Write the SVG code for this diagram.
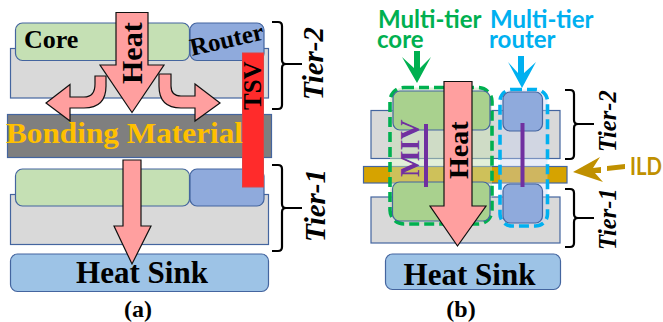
<svg xmlns="http://www.w3.org/2000/svg" width="663" height="322" viewBox="0 0 663 322">
<style>
.b{stroke:#44659f;stroke-width:1.2}
.g{fill:#d9d9d9}.c{fill:#c5e0b4}.r{fill:#8faadc}.s{fill:#9dc3e6}
.c2{fill:#a9d18e}
.h{fill:#ff9f9f;stroke:#111;stroke-width:1.2}
.t{font-family:"Liberation Serif",serif;font-weight:bold;fill:#000}
.i{font-family:"Liberation Serif",serif;font-weight:bold;font-style:italic;fill:#000}
.k{fill:none;stroke:#000;stroke-width:2.2}
.a{font-family:Lato,sans-serif;font-weight:bold;font-size:24px}
</style>
<rect width="663" height="322" fill="#fff"/>
<g id="tier2-a">
<rect class="g b" x="10.500" y="48.500" width="258" height="49.500"/>
<rect class="c b" x="15.500" y="23" width="174" height="37.500" rx="7"/>
<rect class="r b" x="190" y="23" width="74" height="37.500" rx="7"/>
<text class="t" font-size="26" x="24" y="48">Core</text>
<text class="t" font-size="25" transform="translate(192 56) rotate(-13)">Router</text>
</g>
<g id="bonding">
<rect x="7.500" y="114.500" width="264" height="43" fill="#7f7f7f" class="b"/>
</g>
<g id="tier1-a">
<rect class="g b" x="10.500" y="194.500" width="258" height="50"/>
<rect class="c b" x="15.500" y="169" width="174" height="37" rx="7"/>
<rect class="r b" x="190" y="169" width="74" height="37" rx="7"/>
</g>
<g id="heatsink-a">
<rect class="s b" x="10.500" y="254" width="258" height="37.500" rx="7"/>
<text class="t" font-size="31" x="142" y="283" text-anchor="middle">Heat Sink</text>
</g>
<g id="tsv">
<rect x="242.500" y="53" width="21" height="134" fill="#ff2b2b" stroke="#e04040"/>
<text class="t" font-size="25" transform="translate(261 110) rotate(-90)">TSV</text>
</g>
<g id="connectors">
<path class="h" d="M116 12.500H148V65H164L132 112.500L100 65H116Z"/>
<path class="h" d="M95 76H106V86Q106 108 84 108H70V121L46 103L70 84.500V97H84Q95 97 95 84Z"/>
<path class="h" d="M159 74H171V86Q171 96 181 96H195V84L220 103L195 121V108H181Q159 108 159 86Z"/>
<path class="h" d="M123 160H141V226H151L132 264L114 226H123Z"/>
<text class="t" font-size="30" transform="translate(142 84) rotate(-90)">Heat</text>
</g>
<text x="6" y="143" font-family="Liberation Serif,serif" font-weight="bold" font-size="30" fill="#ffc000" textLength="237" lengthAdjust="spacingAndGlyphs">Bonding Material</text>
<g id="tier-labels-a">
<path class="k" d="M272 22H278Q282 22 282 26V60Q282 64 286 64H302M286 64Q282 64 282 68V105Q282 109 278 109H272"/>
<path class="k" d="M272 165H278Q282 165 282 169V204Q282 208 286 208H302M286 208Q282 208 282 212V247Q282 251 278 251H272"/>
<text class="i" font-size="29" transform="translate(323 100) rotate(-90)">Tier-2</text>
<text class="i" font-size="29" transform="translate(325 242) rotate(-90)">Tier-1</text>
</g>
<text class="t" font-size="24" x="138" y="317" text-anchor="middle">(a)</text>

<g id="tier-base-b">
<rect class="g b" x="371" y="110.500" width="189" height="48"/>
<rect class="g b" x="371" y="197" width="189" height="46"/>
</g>
<g id="ild">
<rect x="363.500" y="166.500" width="203.500" height="16.500" fill="#d6a300" class="b"/>
</g>
<g id="multi-tier-core">
<rect x="390" y="87.500" width="102" height="136.500" rx="14" fill="#c5e0b4" fill-opacity=".5" stroke="#00b050" stroke-width="3.600" stroke-dasharray="10 5"/>
</g>
<g id="multi-tier-router">
<rect x="500" y="89.500" width="47.500" height="136.500" rx="12" fill="#c5d3f0" fill-opacity=".4" stroke="#00b0f0" stroke-width="3.600" stroke-dasharray="10 5"/>
</g>
<g id="tier2-b">
<rect class="c2 b" x="393" y="91" width="97" height="39" rx="7"/>
<rect class="r b" x="503" y="92" width="39.500" height="39" rx="7"/>
</g>
<g id="tier1-b">
<rect class="c2 b" x="392.500" y="182" width="97.500" height="39" rx="7"/>
<rect class="r b" x="503" y="184" width="39.500" height="39" rx="7"/>
</g>
<g id="miv">
<path d="M426 124V187M522.500 123V187" stroke="#7030a0" stroke-width="4" fill="none"/>
<text font-family="Liberation Serif,serif" font-weight="bold" font-size="28" fill="#7030a0" transform="translate(419 177) rotate(-90)">MIV</text>
</g>
<g id="connectors-b">
<path class="h" d="M444 81.500H472V206H486L457.500 246L430 206H444Z"/>
<text class="t" font-size="28" transform="translate(468 179) rotate(-90)">Heat</text>
<path d="M414 51H420V68L431 57L417 83L402 57L414 68Z" fill="#00b050"/>
<path d="M518 56H524V73L536 62L522 88L508 62L518 73Z" fill="#00b0f0"/>
<path d="M573 172L600 157L593 168L601 167V173L595 173L603 182Z" fill="#c09000"/>
<path d="M607 166L625 164V169L607 171Z" fill="#c09000"/>
</g>
<g id="labels-b">
<text class="a" x="378" y="28" fill="#00b050">Multi-tier</text>
<text class="a" x="377" y="48" fill="#00b050">core</text>
<text class="a" x="490" y="28" fill="#00b0f0">Multi-tier</text>
<text class="a" x="489" y="48" fill="#00b0f0">router</text>
<text class="a" x="630" y="175" fill="#c09000" textLength="32" lengthAdjust="spacingAndGlyphs">ILD</text>
</g>
<g id="heatsink-b">
<rect class="s b" x="385.500" y="254" width="175" height="35.500" rx="7"/>
<text class="t" font-size="31" x="469.500" y="285" text-anchor="middle">Heat Sink</text>
</g>
<g id="tier-labels-b">
<path class="k" d="M565 90H570Q574 90 574 94V120Q574 124 578 124H594M578 124Q574 124 574 128V155Q574 159 570 159H565"/>
<path class="k" d="M565 189H570Q574 189 574 193V214Q574 218 578 218H594M578 218Q574 218 574 222V243Q574 247 570 247H565"/>
<text class="i" font-size="24.500" transform="translate(616 152) rotate(-90)">Tier-2</text>
<text class="i" font-size="24.500" transform="translate(616 250) rotate(-90)">Tier-1</text>
</g>
<text class="t" font-size="24" x="461" y="317" text-anchor="middle">(b)</text>
</svg>
